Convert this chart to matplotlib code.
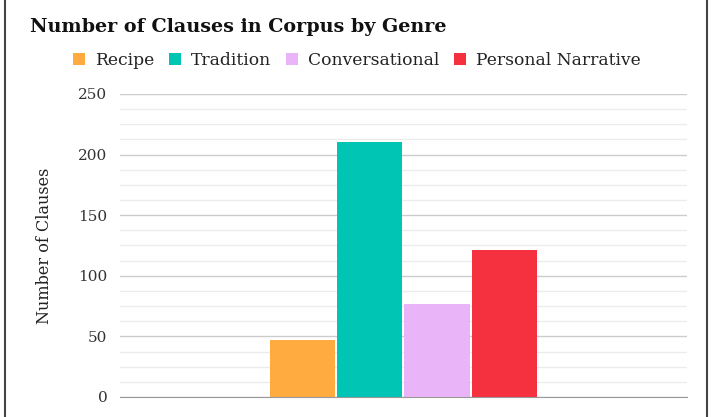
import numpy as np
import matplotlib
matplotlib.use("Agg")
import matplotlib.pyplot as plt
from matplotlib.ticker import MultipleLocator

# data
genres = ["Recipe", "Tradition", "Conversational", "Personal Narrative"]
clauses = [47, 210, 77, 121]
colors = ["#FFAB40", "#00C4B4", "#EAB4F8", "#F5303F"]
y_ticks = [0, 50, 100, 150, 200, 250]

plt.rcParams['font.family'] = ['DejaVu Serif']

fig = plt.figure(figsize=(7.11, 4.17), dpi=100)
ax = fig.add_axes([0.1688, 0.048, 0.7972, 0.7266])

positions = np.arange(len(genres)) - (len(genres) - 1) / 2
for pos, val, col, name in zip(positions, clauses, colors, genres):
    ax.bar(pos, val, width=0.97, color=col, label=name, zorder=3)

ax.set_xlim(-4.21, 4.21)
ax.set_ylim(0, 250)
ax.set_yticks(y_ticks)
ax.yaxis.set_minor_locator(MultipleLocator(12.5))
ax.set_xticks([])
ax.tick_params(axis='y', which='both', length=0, labelsize=11, pad=9, labelcolor="#333333")
ax.grid(axis='y', which='major', color="#cccccc", linewidth=1, zorder=0)
ax.grid(axis='y', which='minor', color="#ececec", linewidth=1, zorder=0)
for side in ["top", "right", "left"]:
    ax.spines[side].set_visible(False)
ax.spines["bottom"].set_color("#999999")
ax.spines["bottom"].set_zorder(4)

ax.set_ylabel("Number of Clauses", fontsize=11.5, color="#222222", labelpad=18)

fig.text(0.042, 0.935, "Number of Clauses in Corpus by Genre", fontsize=13.8,
         fontweight="bold", color="#111111", va="center", ha="left")

fig.legend(loc="center", bbox_to_anchor=(0.502, 0.856), ncol=4, frameon=False,
           fontsize=12.3, handlelength=0.7, handleheight=0.7, handletextpad=0.6,
           columnspacing=0.85, labelcolor="#222222")

# outer frame (left and right edges)
fig.add_artist(plt.Line2D([0.007, 0.007], [0, 1], color="#444444", linewidth=1.5,
                          transform=fig.transFigure))
fig.add_artist(plt.Line2D([0.994, 0.994], [0, 1], color="#444444", linewidth=1.5,
                          transform=fig.transFigure))

fig.savefig("out.png", dpi=100)
